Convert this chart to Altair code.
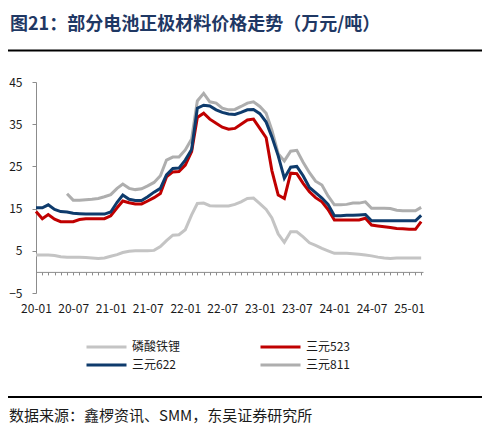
import altair as alt
import pandas as pd

# ---- data (万元/吨), monthly from 2020-01 to 2025-03 ----
months = pd.date_range("2020-01-01", periods=63, freq="MS").strftime("%Y-%m-%d").tolist()

lfp = [4.0, 4.0, 4.0, 3.9, 3.6, 3.5, 3.5, 3.5, 3.4, 3.3,
       3.2, 3.3, 3.7, 4.1, 4.6, 4.9, 5.0, 5.0, 5.0, 5.1,
       6.0, 7.4, 8.7, 8.8, 10.0, 13.5, 16.2, 16.3, 15.7, 15.6,
       15.6, 15.6, 16.0, 16.6, 17.4, 17.5, 16.2, 14.8, 12.8, 9.0,
       7.0, 9.5, 9.5, 8.3, 6.9, 6.3, 5.6, 5.0, 4.4, 4.4,
       4.4, 4.3, 4.2, 4.0, 3.8, 3.5, 3.3, 3.2, 3.3, 3.3,
       3.3, 3.3, 3.3]

ncm523 = [14.3, 12.6, 13.6, 12.5, 11.9, 11.9, 11.9, 12.4, 12.6, 12.6,
          12.6, 12.6, 13.3, 15.2, 16.8, 16.4, 16.1, 16.1, 16.8, 17.6,
          18.6, 22.5, 23.7, 23.8, 25.3, 28.5, 36.6, 37.6, 36.2, 35.2,
          34.3, 33.8, 34.0, 35.0, 36.0, 36.2, 34.0, 31.8, 24.0, 18.2,
          17.4, 23.4, 23.3, 21.0, 19.0, 17.6, 16.6, 14.8, 12.3, 12.3,
          12.3, 12.3, 12.3, 12.7, 11.1, 10.9, 10.7, 10.5, 10.3, 10.2,
          10.1, 10.1, 11.9]

ncm622 = [15.2, 15.2, 15.9, 14.8, 14.3, 14.2, 13.9, 13.8, 13.7, 13.7,
          13.7, 13.7, 14.2, 16.5, 18.2, 17.2, 16.9, 16.9, 17.8, 18.9,
          19.8, 23.0, 24.5, 24.6, 26.5, 29.0, 38.8, 39.5, 39.3, 38.4,
          37.8, 37.4, 37.3, 37.8, 38.4, 38.5, 37.5, 35.5, 32.0, 27.5,
          22.2, 24.8, 25.0, 22.8, 20.0, 18.8, 17.5, 16.0, 13.3, 13.3,
          13.4, 13.4, 13.5, 13.6, 12.1, 12.1, 12.1, 12.1, 12.1, 12.1,
          12.1, 12.1, 13.4]

ncm811 = [None, None, None, None, None, 18.5, 17.0, 17.0, 17.1, 17.2,
          17.4, 17.8, 18.3, 19.8, 20.8, 19.8, 19.5, 19.7, 20.4, 21.2,
          22.8, 26.5, 27.2, 27.2, 28.9, 31.5, 40.5, 42.3, 40.3, 40.0,
          38.8, 38.4, 38.5, 39.2, 40.0, 40.3, 39.2, 37.6, 33.6, 28.0,
          26.3, 28.6, 28.8, 26.0, 23.5, 21.5, 20.6, 18.0, 15.9, 15.9,
          16.0, 16.3, 16.3, 16.6, 15.1, 15.1, 15.1, 15.0, 14.6, 14.5,
          14.5, 14.5, 15.3]

# legend is filled column by column: column 1 = 磷酸铁锂, 三元622; column 2 = 三元523, 三元811
series_names = ["磷酸铁锂", "三元622", "三元523", "三元811"]
series_colors = ["#C4C4C4", "#0E3B6C", "#C00000", "#AEAEAE"]
series_values = {"磷酸铁锂": lfp, "三元523": ncm523, "三元622": ncm622, "三元811": ncm811}
y_ticks = [-5, 5, 15, 25, 35, 45]

title_text = "图21：部分电池正极材料价格走势（万元/吨）"
source_text = "数据来源：鑫椤资讯、SMM，东吴证券研究所"

rows = []
for name in ["磷酸铁锂", "三元523", "三元811", "三元622"]:
    for d, v in zip(months, series_values[name]):
        if v is not None:
            rows.append({"date": d, "series": name, "value": v})
df = pd.DataFrame(rows)

W, H = 387, 211
FONT = "Noto Sans CJK SC"
AXIS_GRAY = "#8C8C8C"

x_axis = alt.Axis(
    title=None,
    offset=-H * 5 / 50,
    tickCount={"interval": "month", "step": 1},
    labelExpr="utcmonth(datum.value) % 6 == 0 ? utcFormat(datum.value, '%y-%m') : ''",
    labelFlush=False,
    labelOverlap=False,
    labelBound=False,
    labelPadding=29,
    labelFont=FONT,
    labelFontSize=12,
    labelColor="#1A1A1A",
    tickSize=3,
    tickColor=AXIS_GRAY,
    domainColor=AXIS_GRAY,
    grid=False,
)

y_axis = alt.Axis(
    title=None,
    values=y_ticks,
    tickSize=4,
    tickColor=AXIS_GRAY,
    domainColor=AXIS_GRAY,
    labelPadding=10,
    labelFont=FONT,
    labelFontSize=12,
    labelColor="#1A1A1A",
    grid=False,
)

legend = alt.Legend(
    title=None,
    orient="none",
    legendX=49,
    legendY=258,
    columns=2,
    symbolType="stroke",
    symbolSize=1600,
    symbolStrokeWidth=3,
    labelOffset=4,
    labelFont=FONT,
    labelFontSize=12,
    labelColor="#1A1A1A",
    clipHeight=14,
    rowPadding=4,
    columnPadding=78,
    padding=0,
)

lines = alt.Chart(df).mark_line(strokeWidth=3).encode(
    x=alt.X(
        "date:T",
        scale=alt.Scale(
            type="utc",
            domain=[alt.DateTime(year=2020, month=1, date=1, utc=True),
                    alt.DateTime(year=2025, month=3, date=10, utc=True)],
        ),
        axis=x_axis,
    ),
    y=alt.Y("value:Q", scale=alt.Scale(domain=[-5, 45], nice=False, zero=False), axis=y_axis),
    color=alt.Color("series:N", scale=alt.Scale(domain=series_names, range=series_colors), legend=legend),
)

one = pd.DataFrame({"t": [title_text], "s": [source_text]})

title = alt.Chart(one).mark_text(
    align="left", baseline="middle", font=FONT, fontSize=18, fontWeight="bold", color="#1F3864"
).encode(x=alt.value(-26), y=alt.value(-57), text="t:N")

rule_top = alt.Chart(one).mark_rule(color="#000000", strokeWidth=2).encode(
    x=alt.value(-28), x2=alt.value(449), y=alt.value(-31.5)
)
rule_bottom = alt.Chart(one).mark_rule(color="#000000", strokeWidth=2).encode(
    x=alt.value(-28), x2=alt.value(449), y=alt.value(315)
)

source = alt.Chart(one).mark_text(
    align="left", baseline="middle", font=FONT, fontSize=15, color="#1A1A1A"
).encode(x=alt.value(-27), y=alt.value(334), text="s:N")

chart = alt.layer(lines, title, rule_top, rule_bottom, source).properties(
    width=W,
    height=H,
    autosize="none",
    padding={"left": 28, "top": 74, "right": 59, "bottom": 137},
    background="white",
).configure_view(stroke=None)

chart.save("out.html", embed_options={"renderer": "svg", "actions": False})
